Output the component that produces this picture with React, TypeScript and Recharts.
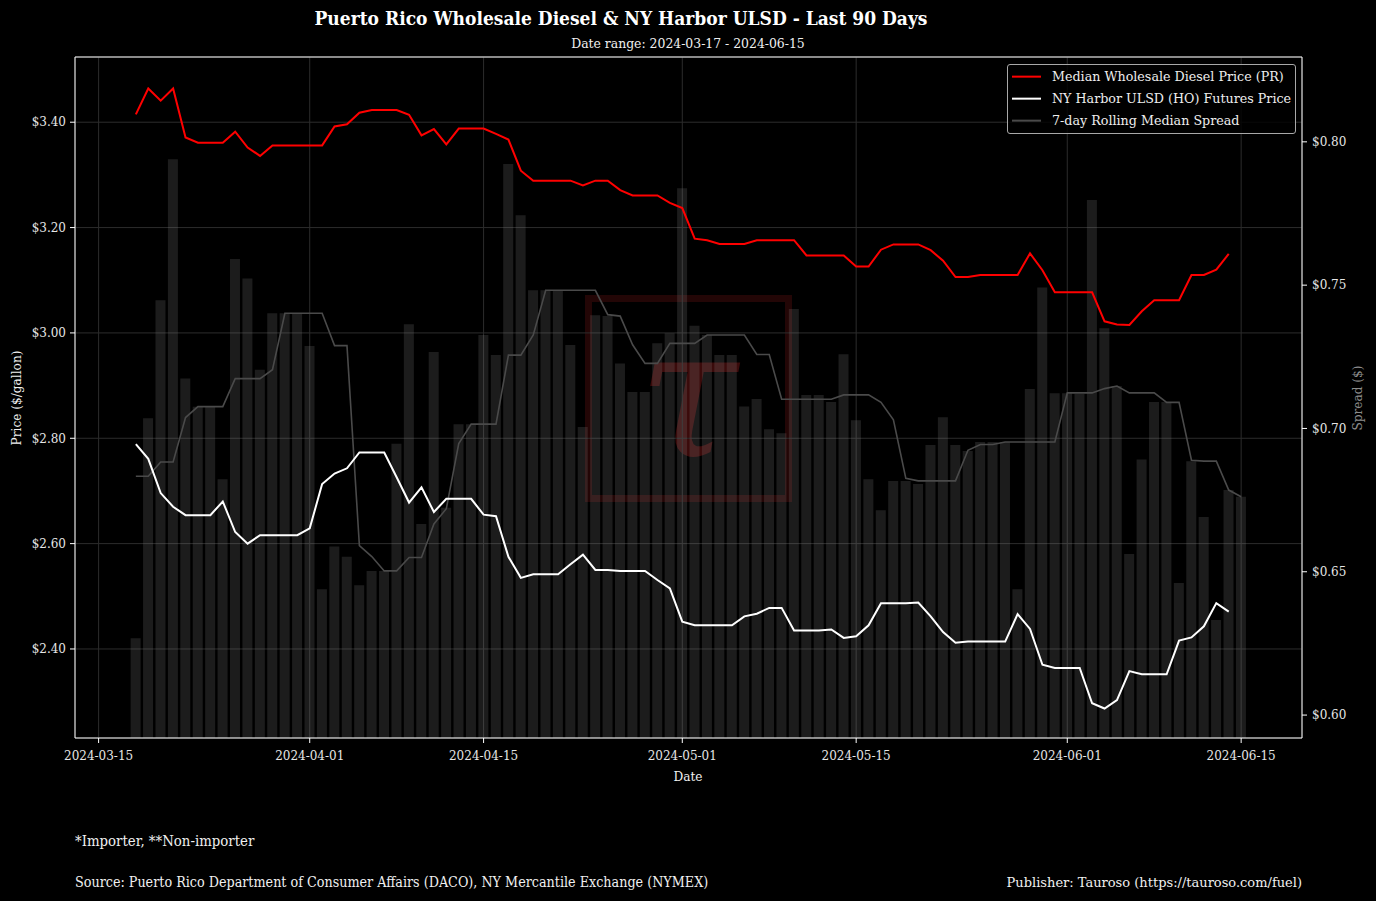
import {
  Bar,
  CartesianGrid,
  ComposedChart,
  Line,
  ReferenceLine,
  XAxis,
  YAxis,
} from "recharts";

// first day of the series, one value per day after it
const START_DATE = "2024-03-18";

// median wholesale diesel price, Puerto Rico ($/gal)
const prPrice = [
  3.415, 3.464, 3.441, 3.464, 3.371, 3.361, 3.361, 3.361, 3.382, 3.352,
  3.336, 3.356, 3.356, 3.356, 3.356, 3.356, 3.392, 3.396, 3.418, 3.423,
  3.423, 3.423, 3.414, 3.375, 3.387, 3.358, 3.388, 3.388, 3.388, 3.378,
  3.367, 3.308, 3.289, 3.289, 3.289, 3.289, 3.28, 3.289, 3.289, 3.271,
  3.261, 3.261, 3.261, 3.247, 3.237, 3.179, 3.176, 3.169, 3.169, 3.169,
  3.176, 3.176, 3.176, 3.176, 3.147, 3.147, 3.147, 3.147, 3.126, 3.126,
  3.158, 3.168, 3.168, 3.168, 3.157, 3.137, 3.106, 3.106, 3.11, 3.11,
  3.11, 3.11, 3.151, 3.119, 3.077, 3.077, 3.077, 3.077, 3.022, 3.016,
  3.015, 3.041, 3.062, 3.062, 3.062, 3.11, 3.11, 3.12, 3.15,
];

// NY Harbor ULSD futures ($/gal)
const hoPrice = [
  2.789, 2.761, 2.696, 2.67, 2.654, 2.654, 2.654, 2.68, 2.622, 2.6,
  2.616, 2.616, 2.616, 2.616, 2.629, 2.713, 2.733, 2.743, 2.773, 2.773,
  2.773, 2.726, 2.678, 2.707, 2.66, 2.685, 2.685, 2.685, 2.655, 2.652,
  2.575, 2.535, 2.542, 2.542, 2.542, 2.561, 2.579, 2.55, 2.55, 2.548,
  2.548, 2.548, 2.531, 2.515, 2.452, 2.445, 2.445, 2.445, 2.445, 2.462,
  2.467, 2.478, 2.478, 2.435, 2.435, 2.435, 2.437, 2.421, 2.424, 2.445,
  2.487, 2.487, 2.487, 2.488, 2.462, 2.432, 2.412, 2.414, 2.414, 2.414,
  2.414, 2.466, 2.438, 2.37, 2.364, 2.364, 2.364, 2.297, 2.287, 2.303,
  2.358, 2.352, 2.352, 2.352, 2.416, 2.422, 2.443, 2.487, 2.471,
];

// daily spread (bars)
const dailySpread = [
  0.6268, 0.7036, 0.7447, 0.7939, 0.7174, 0.7076, 0.7076, 0.6823, 0.7591, 0.7523,
  0.7205, 0.7402, 0.7402, 0.7402, 0.7288, 0.6439, 0.6588, 0.6552, 0.6453, 0.6503,
  0.6503, 0.6947, 0.7364, 0.6667, 0.7267, 0.6723, 0.7015, 0.7015, 0.7326, 0.7256,
  0.7923, 0.7744, 0.7482, 0.7482, 0.7482, 0.7291, 0.7005, 0.7395, 0.7392, 0.7227,
  0.7127, 0.7127, 0.7297, 0.7332, 0.7838, 0.7358, 0.7326, 0.7256, 0.7256, 0.7077,
  0.7103, 0.6997, 0.6983, 0.7417, 0.7117, 0.7117, 0.7092, 0.7259, 0.7029, 0.6823,
  0.6715, 0.6817, 0.6817, 0.6806, 0.6942, 0.7039, 0.6942, 0.6921, 0.6953, 0.6953,
  0.6953, 0.6439, 0.7138, 0.7492, 0.7123, 0.7123, 0.712, 0.7797, 0.735, 0.7148,
  0.6562, 0.6892, 0.7092, 0.7092, 0.6461, 0.6886, 0.6691, 0.6332, 0.6785, 0.6762,
];

// 7-day rolling median of the spread
const rollingSpread = [
  0.6833, 0.6833, 0.6883, 0.6883, 0.7038, 0.7076, 0.7076, 0.7076, 0.7174, 0.7174,
  0.7174, 0.7205, 0.7402, 0.7402, 0.7402, 0.7402, 0.7289, 0.7289, 0.6591, 0.6553,
  0.6503, 0.6503, 0.655, 0.655, 0.6667, 0.672, 0.6947, 0.7015, 0.7015, 0.7015,
  0.7256, 0.7256, 0.7326, 0.7482, 0.7482, 0.7482, 0.7482, 0.7482, 0.7397, 0.7392,
  0.7292, 0.7227, 0.7227, 0.7297, 0.7297, 0.7297, 0.7326, 0.7326, 0.7326, 0.7326,
  0.7258, 0.7258, 0.7102, 0.7102, 0.7102, 0.7102, 0.7102, 0.7117, 0.7117, 0.7117,
  0.7091, 0.703, 0.6826, 0.6817, 0.6817, 0.6817, 0.6817, 0.6924, 0.6944, 0.6944,
  0.6953, 0.6953, 0.6953, 0.6953, 0.6953, 0.7124, 0.7124, 0.7124, 0.7139, 0.7148,
  0.7124, 0.7124, 0.7124, 0.7091, 0.7091, 0.6889, 0.6886, 0.6886, 0.6785, 0.6762,
];

const tickDates = [
  "2024-03-15",
  "2024-04-01",
  "2024-04-15",
  "2024-05-01",
  "2024-05-15",
  "2024-06-01",
  "2024-06-15",
];
const priceTicks = [2.4, 2.6, 2.8, 3.0, 3.2, 3.4];
const spreadTicks = [0.6, 0.65, 0.7, 0.75, 0.8];

const DAY = 86400000;
const t0 = Date.parse(START_DATE);
const dayOf = (d: string) => Math.round((Date.parse(d) - t0) / DAY);
const dateOf = (i: number) =>
  new Date(t0 + Math.round(i) * DAY).toISOString().slice(0, 10);

const data = dailySpread.map((s, i) => ({
  day: i,
  pr: prPrice[i] ?? null,
  ho: hoPrice[i] ?? null,
  spread: s,
  rolling: rollingSpread[i],
}));

const SERIF = "'DejaVu Serif', serif";
const money = (v: number) => `$${v.toFixed(2)}`;
const tickStyle = { fill: "#e6e6e6", fontSize: 12, fontFamily: SERIF };

const cond: React.CSSProperties = {
  position: "absolute",
  fontFamily: SERIF,
  fontStretch: "condensed",
  whiteSpace: "nowrap",
  color: "#f0f0f0",
  lineHeight: 1,
};

const legendItems = [
  { label: "Median Wholesale Diesel Price (PR)", color: "#ff0000" },
  { label: "NY Harbor ULSD (HO) Futures Price", color: "#ffffff" },
  { label: "7-day Rolling Median Spread", color: "#4a4a4a" },
];

export default function App() {
  return (
    <div
      style={{
        position: "absolute",
        left: 0,
        top: 0,
        width: 1376,
        height: 901,
        background: "#000",
        overflow: "hidden",
      }}
    >
      {/* watermark */}
      <div
        style={{
          position: "absolute",
          left: 585,
          top: 295,
          width: 207,
          height: 207,
          boxSizing: "border-box",
          border: "7px solid #230606",
        }}
      />
      <div
        style={{
          position: "absolute",
          left: 688,
          top: 394,
          transform: "translate(-50%, -50%)",
          fontFamily: SERIF,
          fontStyle: "italic",
          fontSize: 180,
          lineHeight: 1,
          color: "#3a0b0b",
        }}
      >
        τ
      </div>

      <div style={{ position: "absolute", left: 0, top: 0 }}>
        <ComposedChart
          width={1376}
          height={901}
          data={data}
          margin={{ top: 57, right: 10, bottom: 133, left: 10 }}
        >
          <CartesianGrid
            xAxisId="x"
            yAxisId="left"
            stroke="#2c2c2c"
            strokeWidth={1}
          />
          <XAxis
            xAxisId="x"
            dataKey="day"
            type="number"
            domain={[-4.9, 93.9]}
            allowDataOverflow
            ticks={tickDates.map(dayOf)}
            tickFormatter={dateOf}
            height={30}
            tick={tickStyle}
            tickSize={5}
            tickMargin={8}
            stroke="#ffffff"
          />
          <YAxis
            yAxisId="left"
            orientation="left"
            domain={[2.231, 3.5238]}
            allowDataOverflow
            ticks={priceTicks}
            tickFormatter={money}
            width={65}
            tick={tickStyle}
            tickSize={5}
            tickMargin={4}
            stroke="#ffffff"
          />
          <YAxis
            yAxisId="right"
            orientation="right"
            domain={[0.592, 0.8296]}
            allowDataOverflow
            ticks={spreadTicks}
            tickFormatter={money}
            width={64}
            tick={tickStyle}
            tickSize={5}
            tickMargin={5}
            stroke="#ffffff"
          />
          <ReferenceLine
            xAxisId="x"
            yAxisId="left"
            y={3.5238}
            stroke="#ffffff"
            ifOverflow="visible"
          />
          <Bar
            xAxisId="x"
            yAxisId="right"
            dataKey="spread"
            fill="#8a8a8a"
            fillOpacity={0.2}
            barSize={10}
            isAnimationActive={false}
          />
          <Line
            xAxisId="x"
            yAxisId="right"
            dataKey="rolling"
            stroke="#4a4a4a"
            strokeWidth={1.6}
            dot={false}
            type="linear"
            isAnimationActive={false}
          />
          <Line
            xAxisId="x"
            yAxisId="left"
            dataKey="pr"
            stroke="#ff0000"
            strokeWidth={2}
            dot={false}
            type="linear"
            isAnimationActive={false}
          />
          <Line
            xAxisId="x"
            yAxisId="left"
            dataKey="ho"
            stroke="#ffffff"
            strokeWidth={2}
            dot={false}
            type="linear"
            isAnimationActive={false}
          />
        </ComposedChart>
      </div>

      {/* legend */}
      <div
        style={{
          position: "absolute",
          left: 1007,
          top: 64,
          width: 289,
          height: 70,
          boxSizing: "border-box",
          border: "1px solid #a8a8a8",
          borderRadius: 3,
          background: "rgba(0,0,0,0.8)",
        }}
      >
        {legendItems.map((it, k) => (
          <div
            key={it.label}
            style={{
              position: "absolute",
              left: 4,
              top: 12 + k * 22,
              display: "flex",
              alignItems: "center",
              transform: "translateY(-50%)",
            }}
          >
            <div style={{ width: 29, height: 2, background: it.color }} />
            <span
              style={{
                marginLeft: 11,
                fontFamily: SERIF,
                fontSize: 12.7,
                color: "#eeeeee",
                whiteSpace: "nowrap",
                lineHeight: 1,
              }}
            >
              {it.label}
            </span>
          </div>
        ))}
      </div>

      {/* titles */}
      <div
        style={{
          ...cond,
          left: 621,
          top: 18,
          transform: "translate(-50%, -50%)",
          fontSize: 19,
          fontWeight: "bold",
          color: "#ffffff",
        }}
      >
        Puerto Rico Wholesale Diesel &amp; NY Harbor ULSD - Last 90 Days
      </div>
      <div
        style={{
          ...cond,
          left: 688,
          top: 44,
          transform: "translate(-50%, -50%)",
          fontSize: 13.8,
        }}
      >
        Date range: 2024-03-17 - 2024-06-15
      </div>

      {/* axis titles */}
      <div
        style={{
          ...cond,
          left: 17,
          top: 398,
          transform: "translate(-50%, -50%) rotate(-90deg)",
          fontSize: 13.5,
        }}
      >
        Price ($/gallon)
      </div>
      <div
        style={{
          ...cond,
          left: 1358,
          top: 398,
          transform: "translate(-50%, -50%) rotate(-90deg)",
          fontSize: 13.5,
          color: "#8c8c8c",
        }}
      >
        Spread ($)
      </div>
      <div
        style={{
          ...cond,
          left: 688,
          top: 777,
          transform: "translate(-50%, -50%)",
          fontSize: 13.5,
        }}
      >
        Date
      </div>

      {/* footer */}
      <div style={{ ...cond, left: 75, top: 841, transform: "translateY(-50%)", fontSize: 14.8 }}>
        *Importer, **Non-importer
      </div>
      <div style={{ ...cond, left: 75, top: 882, transform: "translateY(-50%)", fontSize: 14.2 }}>
        Source: Puerto Rico Department of Consumer Affairs (DACO), NY Mercantile
        Exchange (NYMEX)
      </div>
      <div
        style={{
          ...cond,
          right: 1376 - 1302,
          top: 882,
          transform: "translateY(-50%)",
          fontSize: 13,
          fontStretch: "normal",
        }}
      >
        Publisher: Tauroso (https://tauroso.com/fuel)
      </div>
    </div>
  );
}
